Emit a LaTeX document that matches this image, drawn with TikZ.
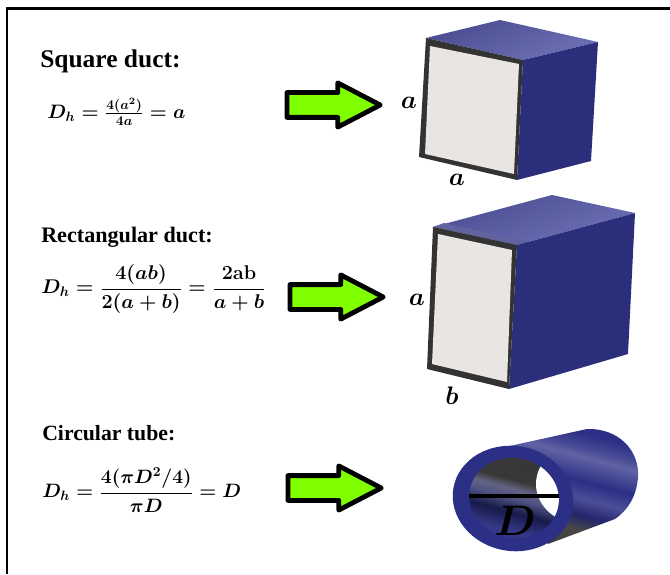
\documentclass[tikz,border=0pt]{standalone}
\usepackage{fix-cm}
\usepackage{amsmath}
\usepackage{fontspec}
\setmainfont{Liberation Serif}
\usetikzlibrary{shapes.arrows}
\definecolor{ductTop}{HTML}{5559AA}
\definecolor{ductSide}{HTML}{2B2F7B}
\definecolor{ductFace}{HTML}{E8E5E2}
\definecolor{ductFrame}{HTML}{333333}
\definecolor{tubeBlue}{HTML}{2B2F85}
\definecolor{arrowGreen}{HTML}{7FFF00}
\pgfdeclareverticalshading{tubebody}{100bp}{color(0bp)=(black!85);color(33bp)=(black!72);color(39bp)=(tubeBlue!80!black);color(46bp)=(tubeBlue!85!white);color(53bp)=(tubeBlue);color(63bp)=(tubeBlue!75!white);color(67bp)=(tubeBlue!88!white);color(73bp)=(tubeBlue);color(100bp)=(tubeBlue)}
\pgfdeclareverticalshading{tubeinner}{100bp}{color(0bp)=(tubeBlue);color(32bp)=(tubeBlue!90!gray);color(42bp)=(tubeBlue!55!black);color(50bp)=(tubeBlue!55!gray);color(55bp)=(tubeBlue!35!gray);color(60bp)=(black!78);color(100bp)=(black!80)}
\tikzset{
  x=0.75pt, y=-0.75pt,
  title/.style = {anchor=base west, inner sep=0pt, font=\bfseries},
  formula/.style = {anchor=west, inner sep=0pt},
  dim/.style = {inner sep=0pt, font=\fontsize{19}{19}\selectfont},
  greenarrow/.style = {shape=single arrow, draw=black, fill=arrowGreen, line width=3.6pt, line join=round, inner xsep=0pt, inner ysep=7.5pt, minimum height=70pt, minimum width=30pt, single arrow head extend=7.3pt, single arrow head indent=0pt, single arrow tip angle=55, anchor=west},
  topface/.style = {left color=ductTop!85!black, right color=ductTop!85!white, shading angle=20},
  sideface/.style = {fill=ductSide},
  frontface/.style = {fill=ductFrame},
  innerface/.style = {fill=ductFace}
}
\begin{document}
\boldmath
\begin{tikzpicture}
  \useasboundingbox (0,0) rectangle (670,574);
  \draw[line width=1.6pt] (7,574) -- (7,8.5) -- (670,8.5);

  % square duct
  \node[title, font=\bfseries\fontsize{19.1}{20}\selectfont] (t1) at (40,68) {Square duct:};
  \node[formula, font=\fontsize{14.6}{17}\selectfont] (f1) at (47,112) {$D_h=\frac{4(a^2)}{4a}=a$};
  \node[greenarrow] (a1) at (284.5,105) {};
  \path[topface] (426,38) -- (500,20) -- (598,42) -- (523,60) -- cycle;
  \path[sideface] (523,60) -- (598,42) -- (591,161) -- (517,180) -- cycle;
  \path[frontface] (426,38) -- (523,60) -- (517,180) -- (419,157) -- cycle;
  \path[innerface] (430,46) -- (519,64) -- (514,174) -- (425,154) -- cycle;
  \node[dim] (a1l) at (409,103) {$a$};
  \node[dim] (a1b) at (457,180) {$a$};

  % rectangular duct
  \node[title, font=\bfseries\fontsize{16.6}{20}\selectfont] (t2) at (41,242) {Rectangular duct:};
  \node[formula, font=\fontsize{14.9}{17}\selectfont] (f2) at (41,289) {$D_h=\dfrac{4(ab)}{2(a+b)}=\dfrac{\mathbf{2ab}}{a+b}$};
  \node[greenarrow] (a2) at (287.5,297) {};
  \path[topface] (433,227) -- (552,195) -- (635,213) -- (517,245) -- cycle;
  \fill[ductTop!75!gray] (433,227) -- (444,223) -- (527,242) -- (517,245) -- cycle;
  \path[sideface] (517,245) -- (635,213) -- (628,354) -- (509,389) -- cycle;
  \path[frontface] (433,227) -- (517,245) -- (509,389) -- (427,369) -- cycle;
  \path[innerface] (438,234) -- (512,250) -- (507,382) -- (432,364) -- cycle;
  \node[dim] (a2l) at (417,300) {$a$};
  \node[dim] (b2b) at (452,396) {$b$};

  % circular tube
  \node[title, font=\bfseries\fontsize{16.3}{20}\selectfont] (t3) at (42,440) {Circular tube:};
  \node[formula, font=\fontsize{14.5}{17}\selectfont] (f3) at (42,490) {$D_h=\dfrac{4(\pi D^2/4)}{\pi D}=D$};
  \node[greenarrow] (a3) at (285.5,488) {};
  \path[shading=tubebody, shading angle=-15] (505,447) -- (587,429) .. controls (618,428) and (640,450) .. (638,478) .. controls (636,497) and (628,510) .. (615,519) -- (548,544) -- cycle;
  \fill[tubeBlue, rotate around={-10:(513,498.5)}] (513,498.5) ellipse [x radius=60.5, y radius=52.5];
  \begin{scope}
    \clip[rotate around={-10:(514,498)}] (514,498) ellipse [x radius=45, y radius=40];
    \path[shading=tubeinner, shading angle=-15] (465,455) rectangle (563,541);
    \fill[white] (581,484) ellipse [x radius=45, y radius=40];
  \end{scope}
  \coordinate (d1) at (469,496);
  \coordinate (d2) at (559,496);
  \draw[line width=3pt] (d1) -- (d2);
  \node[inner sep=0pt, font=\fontsize{32}{32}\selectfont] (dl) at (515,521) {$D$};
\end{tikzpicture}
\end{document}
